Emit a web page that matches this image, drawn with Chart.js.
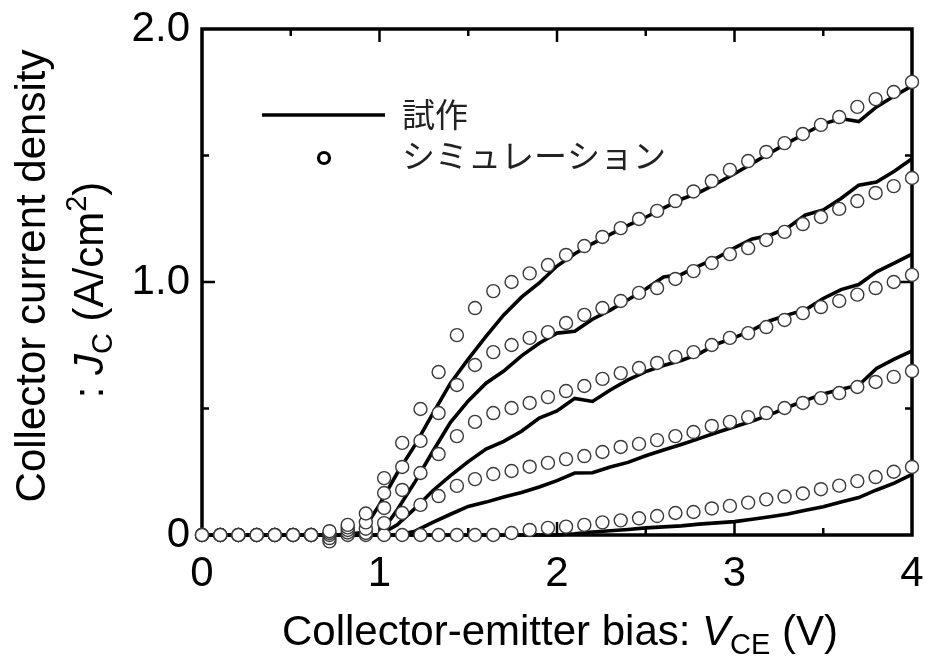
<!DOCTYPE html>
<html>
<head>
<meta charset="utf-8">
<script src="https://cdn.jsdelivr.net/npm/chart.js@4"></script>
<style>
  body { margin: 0; background: #fff; }
  #jcChart { display: block; }
</style>
</head>
<body>
<canvas id="jcChart" width="925" height="657"></canvas>
<script>
// Simulated points (V_CE sweep)
const simV = [0, 0.103, 0.205, 0.308, 0.410, 0.513, 0.615, 0.718, 0.821, 0.923,
    1.026, 1.128, 1.231, 1.333, 1.436, 1.538, 1.641, 1.744, 1.846, 1.949,
    2.051, 2.154, 2.256, 2.359, 2.462, 2.564, 2.667, 2.769, 2.872, 2.974,
    3.077, 3.179, 3.282, 3.385, 3.487, 3.590, 3.692, 3.795, 3.897, 4.0];
const simA = [0, 0, 0, 0, 0, 0, 0, 0.015, 0.04, 0.085,
    0.225, 0.364, 0.498, 0.644, 0.79, 0.897, 0.964, 1.0, 1.034, 1.067,
    1.107, 1.142, 1.178, 1.213, 1.249, 1.281, 1.32, 1.358, 1.399, 1.443,
    1.478, 1.514, 1.549, 1.585, 1.621, 1.652, 1.692, 1.723, 1.751, 1.791];
const simB = [0, 0, 0, 0, 0, 0, 0, 0.008, 0.03, 0.05,
    0.166, 0.269, 0.372, 0.482, 0.593, 0.672, 0.723, 0.751, 0.779, 0.802,
    0.838, 0.87, 0.897, 0.925, 0.957, 0.976, 1.012, 1.043, 1.075, 1.11,
    1.134, 1.166, 1.198, 1.229, 1.257, 1.289, 1.32, 1.352, 1.379, 1.411];
const simC = [0, 0, 0, 0, 0, 0, 0, 0, 0.02, 0.025,
    0.107, 0.178, 0.245, 0.32, 0.391, 0.447, 0.482, 0.502, 0.522, 0.545,
    0.569, 0.589, 0.617, 0.64, 0.66, 0.68, 0.704, 0.723, 0.751, 0.779,
    0.798, 0.822, 0.85, 0.877, 0.901, 0.925, 0.95, 0.976, 1.0, 1.028];
const simD = [0, 0, 0, 0, 0, 0, 0, -0.012, 0.01, 0.008,
    0.047, 0.087, 0.119, 0.154, 0.194, 0.221, 0.241, 0.253, 0.27, 0.285,
    0.30, 0.312, 0.328, 0.348, 0.36, 0.375, 0.391, 0.407, 0.431, 0.447,
    0.466, 0.482, 0.502, 0.522, 0.541, 0.561, 0.585, 0.605, 0.625, 0.648];
const simE = [0, 0, 0, 0, 0, 0, 0, -0.025, 0, 0,
    0, 0, 0, 0, 0, 0, 0, 0.008, 0.02, 0.028,
    0.033, 0.04, 0.05, 0.058, 0.066, 0.075, 0.087, 0.091, 0.105, 0.115,
    0.128, 0.141, 0.152, 0.164, 0.181, 0.195, 0.213, 0.229, 0.25, 0.269];

// Measured curves (prototype device)
const expV = [0, 0.5, 0.8, 0.9,
    1.0, 1.1, 1.2, 1.3, 1.4, 1.5, 1.6, 1.7, 1.8, 1.9,
    2.0, 2.1, 2.2, 2.3, 2.4, 2.5, 2.6, 2.7, 2.8, 2.9,
    3.0, 3.1, 3.2, 3.3, 3.4, 3.5, 3.6, 3.7, 3.8, 3.9, 4.0];
const expA = [0, 0, 0, 0.01,
    0.12, 0.245, 0.355, 0.48, 0.60, 0.695, 0.785, 0.87, 0.94, 0.996,
    1.063, 1.112, 1.152, 1.188, 1.224, 1.256, 1.292, 1.327, 1.353, 1.39,
    1.428, 1.469, 1.51, 1.55, 1.588, 1.625, 1.646, 1.634, 1.692, 1.735, 1.775];
const expB = [0, 0, 0, 0,
    0, 0.10, 0.21, 0.33, 0.445, 0.53, 0.60, 0.648, 0.708, 0.758,
    0.798, 0.805, 0.853, 0.889, 0.93, 0.972, 1.02, 1.03, 1.064, 1.095,
    1.135, 1.17, 1.185, 1.215, 1.265, 1.285, 1.33, 1.383, 1.395, 1.438, 1.487];
const expC = [0, 0, 0, 0,
    0, 0.04, 0.105, 0.175, 0.235, 0.29, 0.34, 0.37, 0.41, 0.462,
    0.49, 0.54, 0.528, 0.573, 0.613, 0.646, 0.67, 0.69, 0.716, 0.755,
    0.78, 0.81, 0.847, 0.87, 0.89, 0.935, 0.97, 0.99, 1.04, 1.075, 1.11];
const expD = [0, 0, 0, 0,
    0, 0, 0.015, 0.05, 0.082, 0.113, 0.13, 0.15, 0.168, 0.19,
    0.215, 0.245, 0.246, 0.269, 0.287, 0.313, 0.336, 0.358, 0.381, 0.405,
    0.428, 0.45, 0.476, 0.505, 0.532, 0.557, 0.576, 0.592, 0.658, 0.695, 0.728];
const expE = [0, 0, 0, 0,
    0, 0, 0, 0, 0, 0, 0, 0, 0, 0,
    0, 0.005, 0.012, 0.017, 0.022, 0.028, 0.032, 0.036, 0.043, 0.048,
    0.053, 0.062, 0.072, 0.083, 0.098, 0.112, 0.13, 0.148, 0.178, 0.205, 0.24];

const xTicks = [0, 1, 2, 3, 4];
const yTicks = [0, 1, 2];
const legendLabels = ['試作', 'シミュレーション'];

const FONT = '"Liberation Sans", Arial, sans-serif';
const JP_FONT = '"Noto Sans CJK JP", sans-serif';

function toPoints(xs, ys) {
    return xs.map((x, i) => ({ x: x, y: ys[i] }));
}

function simSet(ys) {
    return {
        data: toPoints(simV, ys),
        showLine: false,
        pointRadius: 6.5,
        pointBorderWidth: 1.4,
        pointBorderColor: '#3a3a3a',
        pointBackgroundColor: '#fff',
        clip: false,
        order: 0
    };
}

function expSet(ys) {
    return {
        data: toPoints(expV, ys),
        showLine: true,
        borderColor: '#000',
        borderWidth: 3.6,
        pointRadius: 0,
        tension: 0,
        clip: false,
        order: 1
    };
}

// draws a run of text pieces with different fonts / offsets
function drawRich(ctx, parts, x, y, align) {
    let total = 0;
    parts.forEach(p => {
        ctx.font = p.font;
        p.w = ctx.measureText(p.text).width;
        total += p.w;
    });
    let cx = align === 'center' ? x - total / 2 : x;
    ctx.textAlign = 'left';
    ctx.textBaseline = 'alphabetic';
    parts.forEach(p => {
        ctx.font = p.font;
        ctx.fillText(p.text, cx, y + (p.dy || 0));
        cx += p.w;
    });
}

const framePlugin = {
    id: 'frameTicks',
    beforeDatasetsDraw(chart) {
        const { ctx, chartArea: a, scales } = chart;
        ctx.save();
        ctx.strokeStyle = '#000';
        ctx.lineWidth = 2.5;
        ctx.beginPath();
        [0.5, 1, 1.5, 2, 2.5, 3, 3.5].forEach(v => {
            const px = scales.x.getPixelForValue(v);
            const len = Number.isInteger(v) ? 13 : 7;
            ctx.moveTo(px, a.bottom); ctx.lineTo(px, a.bottom - len);
            ctx.moveTo(px, a.top); ctx.lineTo(px, a.top + len);
        });
        [0.5, 1, 1.5].forEach(v => {
            const py = scales.y.getPixelForValue(v);
            const len = Number.isInteger(v) ? 13 : 7;
            ctx.moveTo(a.left, py); ctx.lineTo(a.left + len, py);
            ctx.moveTo(a.right, py); ctx.lineTo(a.right - len, py);
        });
        ctx.stroke();
        ctx.lineWidth = 3.5;
        ctx.strokeRect(a.left, a.top, a.right - a.left, a.bottom - a.top);
        ctx.restore();
    },
    afterDraw(chart) {
        const { ctx } = chart;
        ctx.save();
        ctx.fillStyle = '#000';

        // x axis title
        drawRich(ctx, [
            { text: 'Collector-emitter bias: ', font: '42px ' + FONT },
            { text: 'V', font: 'italic 42px ' + FONT },
            { text: 'CE', font: '29px ' + FONT, dy: 9 },
            { text: ' (V)', font: '42px ' + FONT }
        ], 560, 645, 'center');

        // y axis title, two lines
        ctx.save();
        ctx.translate(45, 276);
        ctx.rotate(-Math.PI / 2);
        drawRich(ctx, [{ text: 'Collector current density', font: '42px ' + FONT }], 0, 0, 'center');
        ctx.restore();
        ctx.save();
        ctx.translate(103, 290);
        ctx.rotate(-Math.PI / 2);
        drawRich(ctx, [
            { text: ': ', font: '42px ' + FONT },
            { text: 'J', font: 'italic 42px ' + FONT },
            { text: 'C', font: '29px ' + FONT, dy: 9 },
            { text: ' (A/cm', font: '42px ' + FONT },
            { text: '2', font: '29px ' + FONT, dy: -17 },
            { text: ')', font: '42px ' + FONT }
        ], 0, 0, 'center');
        ctx.restore();

        // legend
        ctx.strokeStyle = '#000';
        ctx.lineWidth = 3.6;
        ctx.beginPath();
        ctx.moveTo(262, 115);
        ctx.lineTo(385, 115);
        ctx.stroke();
        ctx.lineWidth = 3.2;
        ctx.beginPath();
        ctx.arc(324, 158, 5.5, 0, Math.PI * 2);
        ctx.fillStyle = '#fff';
        ctx.fill();
        ctx.stroke();
        ctx.fillStyle = '#222';
        ctx.font = '33px ' + JP_FONT;
        ctx.textAlign = 'left';
        ctx.textBaseline = 'middle';
        ctx.fillText(legendLabels[0], 402, 114);
        ctx.fillText(legendLabels[1], 402, 155);
        ctx.restore();
    }
};

const ctx = document.getElementById('jcChart');
new Chart(ctx, {
    type: 'scatter',
    data: {
        datasets: [
            simSet(simA), simSet(simB), simSet(simC), simSet(simD), simSet(simE),
            expSet(expA), expSet(expB), expSet(expC), expSet(expD), expSet(expE)
        ]
    },
    options: {
        responsive: false,
        animation: false,
        layout: { padding: { left: 0, top: 29, right: 13, bottom: 0 } },
        plugins: {
            legend: { display: false },
            tooltip: { enabled: false }
        },
        scales: {
            x: {
                type: 'linear',
                min: 0,
                max: 4,
                grid: { display: false, drawTicks: false },
                border: { display: false },
                afterFit: s => {
                    s.height = 122;
                    s.paddingLeft = 0;
                    s.paddingRight = 0;
                },
                afterBuildTicks: s => { s.ticks = xTicks.map(v => ({ value: v })); },
                ticks: {
                    color: '#000',
                    padding: 14,
                    font: { family: FONT, size: 42 },
                    callback: v => String(v)
                }
            },
            y: {
                type: 'linear',
                min: 0,
                max: 2,
                grid: { display: false, drawTicks: false },
                border: { display: false },
                afterFit: s => {
                    s.width = 202;
                    s.paddingTop = 0;
                    s.paddingBottom = 0;
                },
                afterBuildTicks: s => { s.ticks = yTicks.map(v => ({ value: v })); },
                ticks: {
                    color: '#000',
                    padding: 12,
                    font: { family: FONT, size: 42 },
                    callback: v => v === 0 ? '0' : v.toFixed(1)
                }
            }
        }
    },
    plugins: [framePlugin]
});
</script>
</body>
</html>
